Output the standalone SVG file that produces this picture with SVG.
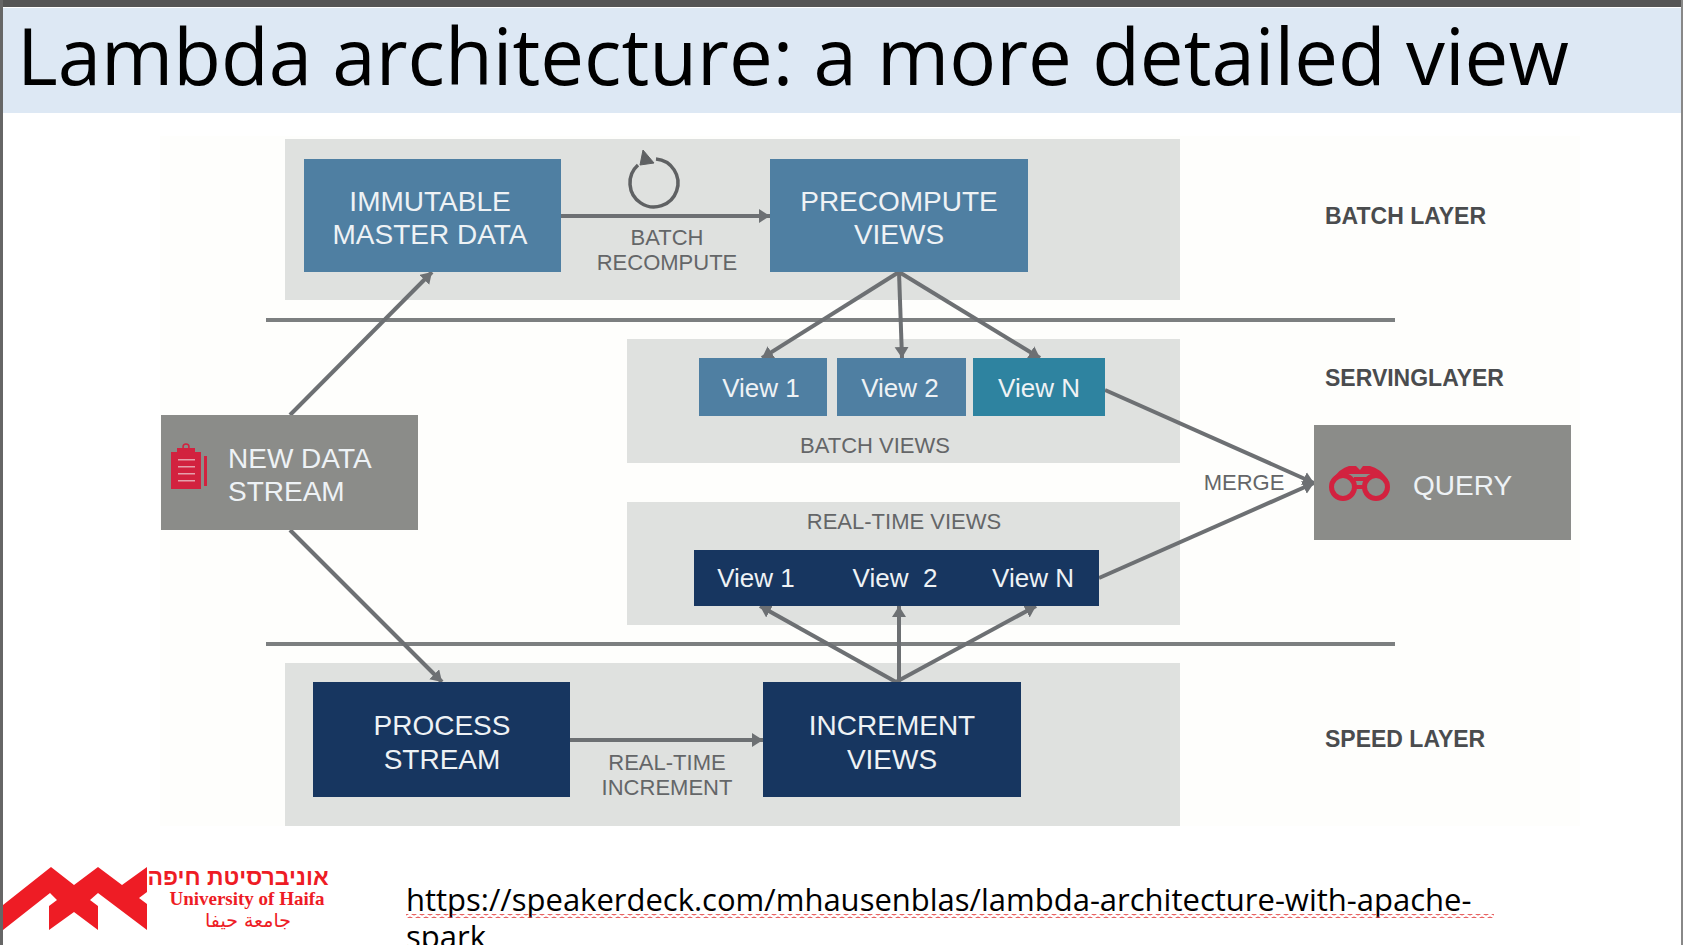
<svg xmlns="http://www.w3.org/2000/svg" width="1693" height="945" viewBox="0 0 1693 945">
<style>
.d{font-family:"Liberation Sans",Arial,sans-serif}
.w{fill:#eef2f5;font-size:28px;text-anchor:middle}
.v{fill:#eef2f5;font-size:26px;text-anchor:middle}
.g{fill:#646668;font-size:22px;text-anchor:middle}
.h{fill:#4a4c4e;font-size:23px;font-weight:bold}
.p{fill:#dfe1df}
.c{stroke:#6d7073;stroke-width:4;fill:none}
.u{font-family:"Open Sans","Noto Sans",sans-serif;font-size:31px;fill:#000}
.sq{fill:none;stroke:#e03030;stroke-width:1}
.r{fill:#d2223f}
</style>
<defs>
<marker id="a" markerUnits="userSpaceOnUse" markerWidth="14" markerHeight="16" refX="11" refY="7" orient="auto"><path d="M0 0L11 7L0 14Z" fill="#6d7073"/></marker>
<pattern id="wave" width="8" height="4" patternUnits="userSpaceOnUse" y="904"><path d="M0 2Q2 0 4 2T8 2" class="sq"/></pattern>
</defs>
<rect width="1693" height="945" fill="#fff"/>
<rect width="1693" height="7" fill="#555"/>
<rect width="3" height="945" fill="#666"/>
<rect x="1681" width="12" height="945" fill="#fff"/>
<rect x="1681" width="2" height="945" fill="#888"/>
<rect x="3" y="8" width="1678" height="105" fill="#dde8f4"/>
<text x="17" y="85" font-family="'Open Sans','Noto Sans',sans-serif" font-size="78" fill="#000">Lambda architecture: a more detailed view</text>
<rect x="160" y="136" width="1420" height="690" fill="#fefefc"/>
<g id="panels">
<rect class="p" x="285" y="139" width="895" height="161"/>
<rect class="p" x="627" y="339" width="553" height="124"/>
<rect class="p" x="627" y="502" width="553" height="123"/>
<rect class="p" x="285" y="663" width="895" height="163"/>
</g>
<g id="rules" fill="#7c7f80"><rect x="266" y="318" width="1129" height="4"/><rect x="266" y="642" width="1129" height="4"/></g>
<g id="connectors" class="c">
<path class="c" d="M561 216H770" marker-end="url(#a)"/>
<path class="c" d="M899 272L762 358" marker-end="url(#a)"/>
<path class="c" d="M899 272L902 358" marker-end="url(#a)"/>
<path class="c" d="M899 272L1040 358" marker-end="url(#a)"/>
<path class="c" d="M290 415L432 272" marker-end="url(#a)"/>
<path class="c" d="M290 530L442 682" marker-end="url(#a)"/>
<path class="c" d="M570 740H763" marker-end="url(#a)"/>
<path class="c" d="M896 682L760 606" marker-end="url(#a)"/>
<path class="c" d="M899 682V606" marker-end="url(#a)"/>
<path class="c" d="M896 682L1036 606" marker-end="url(#a)"/>
<path class="c" d="M1105 390L1314 483" marker-end="url(#a)"/>
<path class="c" d="M1099 578L1314 483" marker-end="url(#a)"/>
</g>
<g id="recompute-icon"><path d="M638 165A24 24 0 1 0 656 159" fill="none" stroke="#5f6163" stroke-width="3.5"/><path d="M643 150L640 165L654 163Z" fill="#5f6163" stroke="#5f6163"/></g>
<g id="immutable" class="d"><rect x="304" y="159" width="257" height="113" fill="#4f7fa2"/><text class="w" x="430" y="211">IMMUTABLE</text><text class="w" x="430" y="244">MASTER DATA</text></g>
<g id="precompute" class="d"><rect x="770" y="159" width="258" height="113" fill="#4f7fa2"/><text class="w" x="899" y="211">PRECOMPUTE</text><text class="w" x="899" y="244">VIEWS</text></g>
<g id="batch-label" class="d"><text class="g" x="667" y="245">BATCH</text><text class="g" x="667" y="270">RECOMPUTE</text></g>
<g id="batch-view-1" class="d"><rect x="699" y="358" width="128" height="58" fill="#4f7fa2"/><text class="v" x="761" y="397">View 1</text></g>
<g id="batch-view-2" class="d"><rect x="837" y="358" width="129" height="58" fill="#4f7fa2"/><text class="v" x="900" y="397">View 2</text></g>
<g id="batch-view-n" class="d"><rect x="973" y="358" width="132" height="58" fill="#2e83a0"/><text class="v" x="1039" y="397">View N</text></g>
<g id="batch-views-label" class="d"><text class="g" x="875" y="453">BATCH VIEWS</text></g>
<g id="rt-label" class="d"><text class="g" x="904" y="529">REAL-TIME VIEWS</text></g>
<g id="rt-views" class="d"><rect x="694" y="550" width="405" height="56" fill="#173660"/><text class="v" x="756" y="587">View 1</text><text class="v" x="895" y="587" xml:space="preserve">View  2</text><text class="v" x="1033" y="587">View N</text></g>
<g id="process" class="d"><rect x="313" y="682" width="257" height="115" fill="#173660"/><text class="w" x="442" y="735">PROCESS</text><text class="w" x="442" y="769">STREAM</text></g>
<g id="increment" class="d"><rect x="763" y="682" width="258" height="115" fill="#173660"/><text class="w" x="892" y="735">INCREMENT</text><text class="w" x="892" y="769">VIEWS</text></g>
<g id="increment-label" class="d"><text class="g" x="667" y="770">REAL-TIME</text><text class="g" x="667" y="795">INCREMENT</text></g>
<g id="new-data" class="d"><rect x="161" y="415" width="257" height="115" fill="#8b8c89"/>
<path class="r" d="M171 452H201V489H171Z"/><rect class="r" x="177" y="448" width="18" height="5"/><circle cx="186" cy="447" r="3" fill="none" stroke="#d2223f" stroke-width="1.5"/><rect class="r" x="204" y="456" width="3" height="30"/>
<g fill="#e5a0ac"><rect x="178" y="459" width="17" height="1.5"/><rect x="178" y="466" width="17" height="1.5"/><rect x="178" y="473" width="17" height="1.5"/><rect x="178" y="480" width="17" height="1.5"/></g>
<text x="228" y="468" fill="#eef2f5" font-size="28">NEW DATA</text><text x="228" y="501" fill="#eef2f5" font-size="28">STREAM</text></g>
<g id="query" class="d"><rect x="1314" y="425" width="257" height="115" fill="#8b8c89"/>
<g fill="none" stroke="#d2223f" stroke-width="5"><circle cx="1343" cy="487" r="11.5"/><circle cx="1376" cy="487" r="11.5"/></g><path class="r" d="M1332 480Q1340 468 1349 466L1356 466L1360 470L1363 466L1370 466Q1380 468 1388 480L1376 474L1343 474Z"/><rect class="r" x="1354" y="477" width="12" height="4"/><rect class="r" x="1354" y="485" width="12" height="4"/>
<text x="1413" y="495" fill="#eef2f5" font-size="28">QUERY</text></g>
<g id="merge-label" class="d"><text class="g" x="1244" y="490">MERGE</text></g>
<g id="layer-labels" class="d"><text class="h" x="1325" y="224">BATCH LAYER</text><text class="h" x="1325" y="386">SERVINGLAYER</text><text class="h" x="1325" y="747">SPEED LAYER</text></g>
<g id="logo"><path d="M3 905L51 867L74 885L98 867L122 885L147 867V892L139 898L147 904V930L98 893L90 900L98 906V930L74 912L49 930V906L57 900L50 893L3 930Z" fill="#ee1c25"/>
<text x="238" y="885" font-family="'Liberation Sans',sans-serif" font-weight="bold" font-size="23" fill="#ee1c25" text-anchor="middle" direction="rtl">אוניברסיטת חיפה</text>
<text x="247" y="905" font-family="'Liberation Serif',serif" font-weight="bold" font-size="19" fill="#ee1c25" text-anchor="middle">University of Haifa</text>
<text x="248" y="927" font-family="'DejaVu Sans',sans-serif" font-size="19" fill="#ee1c25" text-anchor="middle" direction="rtl">جامعة حيفا</text></g>
<g id="link"><text class="u" x="406" y="911">https://speakerdeck.com/mhausenblas/lambda-architecture-with-apache-</text><text class="u" x="406" y="948">spark</text>
<rect x="406" y="914" width="1088" height="4" fill="url(#wave)" transform="translate(0,0)"/></g>
</svg>
